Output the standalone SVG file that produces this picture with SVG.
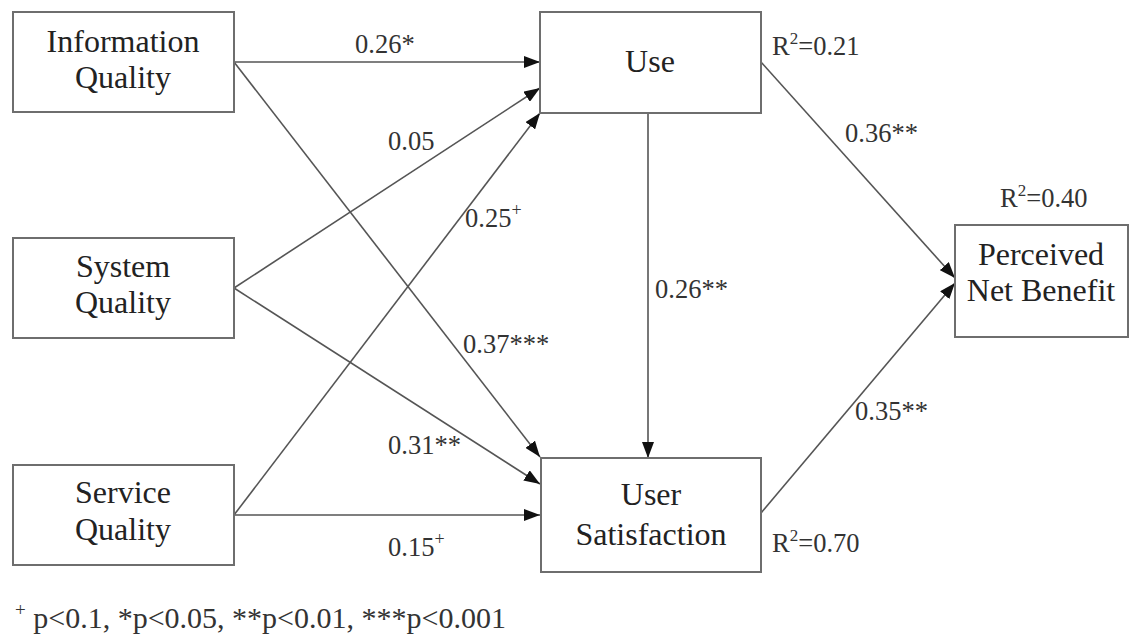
<svg xmlns="http://www.w3.org/2000/svg" width="1139" height="640" viewBox="0 0 1139 640">
  <style>
    .box { fill: #ffffff; stroke: #6e6e6e; stroke-width: 2; }
    .node-text { font-family: 'Liberation Serif', 'DejaVu Serif', serif; font-size: 32px; fill: #222; text-anchor: middle; }
    .edge { fill: none; stroke: #555; stroke-width: 1.6; }
    .lbl { font-family: 'Liberation Serif', 'DejaVu Serif', serif; font-size: 26.5px; fill: #333; }
    .note { font-family: 'Liberation Serif', 'DejaVu Serif', serif; font-size: 30px; fill: #333; }
  </style>
  <defs>
    <marker id="arrow" markerUnits="userSpaceOnUse" markerWidth="17" markerHeight="12" refX="16" refY="6" orient="auto">
      <path d="M0,0 L16,6 L0,12 z" fill="#111"/>
    </marker>
  </defs>
  <rect width="1139" height="640" fill="#ffffff"/>

  <!-- paths between constructs -->
  <g id="connectors">
    <path class="edge" marker-end="url(#arrow)" d="M234,62 L540,62"/>
    <path class="edge" marker-end="url(#arrow)" d="M234,62 L540,457"/>
    <path class="edge" marker-end="url(#arrow)" d="M234,288 L540,88"/>
    <path class="edge" marker-end="url(#arrow)" d="M234,288 L540,484"/>
    <path class="edge" marker-end="url(#arrow)" d="M234,515 L540,113"/>
    <path class="edge" marker-end="url(#arrow)" d="M234,515 L540,515"/>
    <path class="edge" marker-end="url(#arrow)" d="M648,113 L648,458"/>
    <path class="edge" marker-end="url(#arrow)" d="M761,62 L955,278"/>
    <path class="edge" marker-end="url(#arrow)" d="M761,513 L955,283"/>
  </g>

  <!-- path coefficients -->
  <g id="edge-labels" class="lbl">
    <text x="355" y="53">0.26*</text>
    <text x="388" y="150">0.05</text>
    <text x="465" y="227">0.25<tspan font-size="18" dy="-11">+</tspan></text>
    <text x="463" y="353">0.37***</text>
    <text x="388" y="454">0.31**</text>
    <text x="388" y="556">0.15<tspan font-size="18" dy="-11">+</tspan></text>
    <text x="655" y="298">0.26**</text>
    <text x="845" y="142">0.36**</text>
    <text x="855" y="420">0.35**</text>
  </g>

  <!-- explained variance -->
  <g id="r-squared" class="lbl">
    <text x="772" y="55">R<tspan font-size="17" dy="-11">2</tspan><tspan dy="11">=0.21</tspan></text>
    <text x="772" y="552">R<tspan font-size="17" dy="-11">2</tspan><tspan dy="11">=0.70</tspan></text>
    <text x="1000" y="207">R<tspan font-size="17" dy="-11">2</tspan><tspan dy="11">=0.40</tspan></text>
  </g>

  <g id="information-quality">
    <rect class="box" x="13" y="12" width="221" height="100"/>
    <text class="node-text" x="123" y="52">Information</text>
    <text class="node-text" x="123" y="88">Quality</text>
  </g>
  <g id="system-quality">
    <rect class="box" x="13" y="238" width="221" height="100"/>
    <text class="node-text" x="123" y="277">System</text>
    <text class="node-text" x="123" y="313">Quality</text>
  </g>
  <g id="service-quality">
    <rect class="box" x="13" y="465" width="221" height="100"/>
    <text class="node-text" x="123" y="503">Service</text>
    <text class="node-text" x="123" y="540">Quality</text>
  </g>
  <g id="use">
    <rect class="box" x="540" y="12" width="221" height="101"/>
    <text class="node-text" x="650" y="72">Use</text>
  </g>
  <g id="user-satisfaction">
    <rect class="box" x="541" y="458" width="220" height="114"/>
    <text class="node-text" x="651" y="505">User</text>
    <text class="node-text" x="651" y="545">Satisfaction</text>
  </g>
  <g id="perceived-net-benefit">
    <rect class="box" x="955" y="225" width="173" height="112"/>
    <text class="node-text" x="1041" y="265">Perceived</text>
    <text class="node-text" x="1041" y="301">Net Benefit</text>
  </g>

  <text class="note" x="15" y="628"><tspan font-size="19" dy="-12">+</tspan><tspan dy="12"> p&lt;0.1, *p&lt;0.05, **p&lt;0.01, ***p&lt;0.001</tspan></text>
</svg>
